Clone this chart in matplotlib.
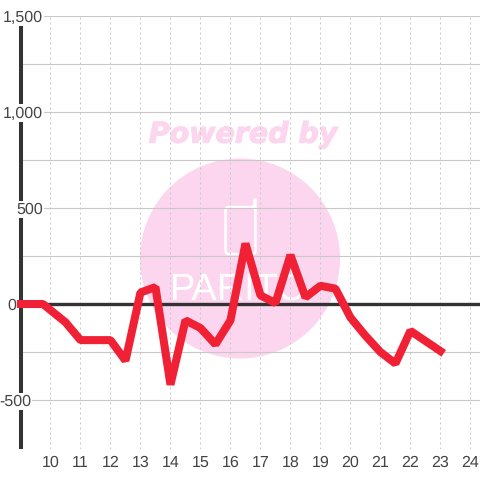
import matplotlib
matplotlib.use("Agg")
import matplotlib.pyplot as plt
import matplotlib.patheffects as pe
from matplotlib.patches import Circle, FancyBboxPatch

# half-hourly series
hours = [9, 9.75, 10.5, 11, 12, 12.5, 13, 13.5, 14, 14.5, 15, 15.5, 16, 16.5, 17, 17.5,
         18, 18.5, 19, 19.5, 20, 20.5, 21, 21.5, 22, 23]
values = [0, 0, -95, -188, -188, -295, 60, 88, -420, -85, -125, -210, -85, 315, 45, 5,
          255, 35, 95, 80, -70, -165, -250, -310, -140, -245]

x_ticks = list(range(10, 25))
y_major = [-500, 0, 500, 1000, 1500]
y_minor = [-250, 250, 750, 1250]
y_labels = ["-500", "0", "500", "1,000", "1,500"]
label_right_px = [31, 16, 43, 43, 43]

plt.rcParams["font.family"] = ["Liberation Sans", "DejaVu Sans"]
plt.rcParams["text.hinting"] = "no_hinting"
plt.rcParams["text.hinting_factor"] = 1

fig = plt.figure(figsize=(4.8, 4.8), dpi=100)
# axes box in pixels: left 20.5, right 480, top 16, bottom 449
ax = fig.add_axes([20.5 / 480, 31 / 480, 459.5 / 480, 433 / 480])
ax.set_xlim(9, 24.32)
ax.set_ylim(-755, 1500)
for s in ["top", "right", "bottom"]:
    ax.spines[s].set_visible(False)
ax.spines["left"].set_linewidth(2.9)
ax.spines["left"].set_color("#333333")
ax.spines["left"].set_zorder(3)
ax.spines["left"].set_capstyle("butt")

# watermark in figure pixels
wm = fig.add_axes([0, 0, 1, 1], zorder=-1)
wm.set_xlim(0, 480)
wm.set_ylim(480, 0)
wm.axis("off")
ax.patch.set_alpha(0)
wm.add_patch(Circle((240, 258.5), 100, color="#fcd5ee", lw=0))
wm.add_patch(FancyBboxPatch((225.5, 207), 30, 47, boxstyle="round,pad=0,rounding_size=3",
                            fc="none", ec="white", lw=1.8))
wm.plot([254.5, 254.5], [200, 208], color="white", lw=2.6, solid_capstyle="round")
wm.text(239, 290, "PARITO", color="white", fontsize=27, ha="center", va="center",
        family="Liberation Sans")
wm.text(241.5, 135, "Powered by", color="#fcd5ee", fontsize=20.5, fontweight="bold", fontstyle="italic",
        ha="center", va="center", family="DejaVu Sans",
        path_effects=[pe.withStroke(linewidth=0.8, foreground="#fcd5ee")])

ax.set_xticks(x_ticks)
ax.set_yticks(y_major + y_minor)
ax.set_yticklabels([])
ax.tick_params(length=0)
ax.tick_params(axis="x", labelsize=11.5, labelcolor="#444444", pad=4.5)
ax.grid(axis="y", color="#c8c8c8", lw=0.8)
ax.grid(axis="x", color="#c8c8c8", lw=0.72, ls=(0, (2, 3)))
ax.set_axisbelow(True)

ax.axhline(0, color="#333333", lw=2.4, zorder=2)
ax.plot(hours, values, color="#f02035", lw=5.8, solid_joinstyle="bevel", solid_capstyle="projecting",
        zorder=4, clip_on=False)

for v, lab, right in zip(y_major, y_labels, label_right_px):
    ax.annotate(lab, xy=(right / 480, v), xycoords=("figure fraction", "data"), xytext=(0, -1),
                textcoords="offset points", ha="right", va="center", fontsize=11.5, color="#444444",
                zorder=5, annotation_clip=False, bbox=dict(fc="white", ec="none", pad=1.0))

fig.savefig("out.png", dpi=100)
